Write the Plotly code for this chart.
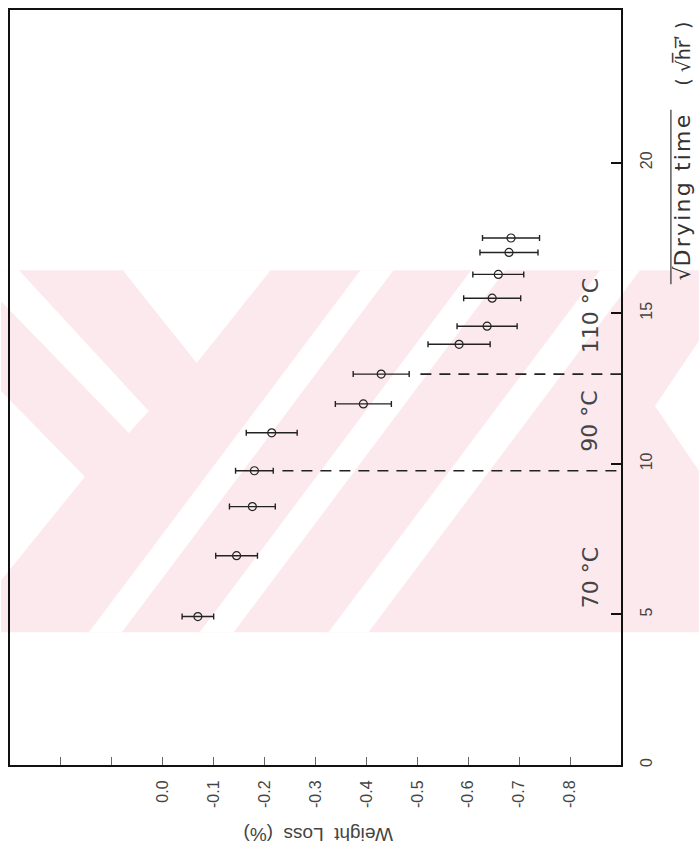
import plotly.graph_objects as go

# ---------------- data ----------------
sqrt_time = [4.93, 6.95, 8.58, 9.77, 11.03, 11.99, 12.98, 13.97, 14.57, 15.50, 16.29, 17.02, 17.50]
weight_loss = [-0.069, -0.145, -0.176, -0.180, -0.214, -0.394, -0.429, -0.582, -0.637, -0.647, -0.659, -0.680, -0.684]
weight_loss_err = [0.031, 0.041, 0.045, 0.037, 0.050, 0.055, 0.055, 0.061, 0.059, 0.056, 0.050, 0.057, 0.056]

boundary_sqrt_time = [9.77, 12.98]
boundary_loss_start = [-0.235, -0.506]
boundary_loss_end = [-0.9, -0.9]

temperature_labels = ["70 °C", "90 °C", "110 °C"]
temperature_label_time = [6.2, 11.4, 14.9]

loss_tickvals = [0.2, 0.1, 0.0, -0.1, -0.2, -0.3, -0.4, -0.5, -0.6, -0.7, -0.8]
loss_ticktext = ["", "", "0.0", "-0.1", "-0.2", "-0.3", "-0.4", "-0.5", "-0.6", "-0.7", "-0.8"]
time_tickvals = [0, 5, 10, 15, 20]
time_ticktext = ["0", "5", "10", "15", "20"]

# ---------------- figure geometry ----------------
W, H = 699, 857
L, R, T, B = 9, 78, 8, 92
PW, PH = W - L - R, H - T - B


def px(x):
    return (x - L) / PW


def py(y):
    return (H - B - y) / PH


def path(poly):
    pts = [f"{px(x):.5f},{py(y):.5f}" for x, y in poly]
    return "M " + " L ".join(pts) + " Z"


PINK = "rgb(252,233,237)"
watermark = [
    ([(0, 269), (699, 269), (699, 632), (0, 632)], PINK),
    ([(122, 269), (270, 269), (196, 362)], "white"),
    ([(0, 269), (18, 269), (148, 410), (128, 432), (0, 300)], "white"),
    ([(0, 390), (84, 476), (0, 580)], "white"),
    ([(360, 269), (393, 269), (121, 632), (88, 632)], "white"),
    ([(471, 269), (505, 269), (233, 632), (199, 632)], "white"),
    ([(600, 269), (640, 269), (368, 632), (328, 632)], "white"),
    ([(699, 340), (655, 405), (699, 470)], "white"),
]
shapes = [
    dict(type="path", xref="paper", yref="paper", path=path(p), fillcolor=c,
         line=dict(width=0), layer="below")
    for p, c in watermark
]
# vinculum of the square root in the axis title
shapes.append(dict(type="line", xref="paper", yref="paper",
                   x0=px(671), x1=px(671), y0=py(108), y1=py(283),
                   line=dict(color="#333", width=1.2)))

fig = go.Figure()

fig.add_trace(go.Scatter(
    x=weight_loss, y=sqrt_time, mode="markers",
    marker=dict(symbol="circle-open", size=8, color="#222", line=dict(width=1.2, color="#222")),
    error_x=dict(type="data", array=weight_loss_err, visible=True,
                 color="#222", thickness=1.4, width=3),
    showlegend=False, hoverinfo="skip",
))

for t, x0, x1 in zip(boundary_sqrt_time, boundary_loss_start, boundary_loss_end):
    fig.add_trace(go.Scatter(
        x=[x0, x1], y=[t, t], mode="lines",
        line=dict(color="#222", width=1.6, dash="11px,8px"),
        showlegend=False, hoverinfo="skip",
    ))

annotations = []
for lab, t in zip(temperature_labels, temperature_label_time):
    annotations.append(dict(
        text=lab, x=px(590), xref="paper", y=t, yref="y", showarrow=False,
        xanchor="center", yanchor="middle",
        textangle=-90, font=dict(size=22, color="#444", family="DejaVu Sans"),
    ))

spaced = "\u200a".join("Drying time")
annotations.append(dict(
    text="√" + spaced,
    x=px(683), y=py(196), xref="paper", yref="paper", showarrow=False,
    xanchor="center", yanchor="middle",
    textangle=-90, font=dict(size=22, color="#333", family="DejaVu Sans"),
))
annotations.append(dict(
    text="( √h\u0305r\u0305\u02b9 )",
    x=px(683), y=py(52), xref="paper", yref="paper", showarrow=False,
    xanchor="center", yanchor="middle",
    textangle=-90, font=dict(size=19, color="#333", family="DejaVu Sans"),
))
annotations.append(dict(
    text="Weight  Loss  (%)",
    x=px(317), y=py(834), xref="paper", yref="paper", showarrow=False,
    xanchor="center", yanchor="middle",
    textangle=180, font=dict(size=19, color="#444", family="Liberation Sans"),
))

fig.update_layout(
    width=W, height=H,
    margin=dict(l=L, r=R, t=T, b=B, pad=0),
    paper_bgcolor="white", plot_bgcolor="rgba(0,0,0,0)",
    shapes=shapes, annotations=annotations,
    font=dict(family="Liberation Sans", color="#333"),
)

fig.update_xaxes(
    range=[0.3, -0.9], tickvals=loss_tickvals, ticktext=loss_ticktext,
    ticks="inside", ticklen=8, tickwidth=1, tickcolor="#666",
    tickangle=-90, tickfont=dict(size=16, color="#444"), ticklabelstandoff=7,
    showline=True, linecolor="#111", linewidth=2, mirror=True,
    showgrid=False, zeroline=False,
)
fig.update_yaxes(
    range=[0, 25.07], tickvals=time_tickvals, ticktext=time_ticktext, side="right",
    ticks="inside", ticklen=10, tickwidth=1.5, tickcolor="#111",
    tickangle=-90, tickfont=dict(size=16, color="#444"), ticklabelstandoff=10,
    showline=True, linecolor="#111", linewidth=2, mirror=True,
    showgrid=False, zeroline=False,
)

fig.write_html("out.html", config={"displayModeBar": False},
               post_script="document.body.style.margin='0';")
